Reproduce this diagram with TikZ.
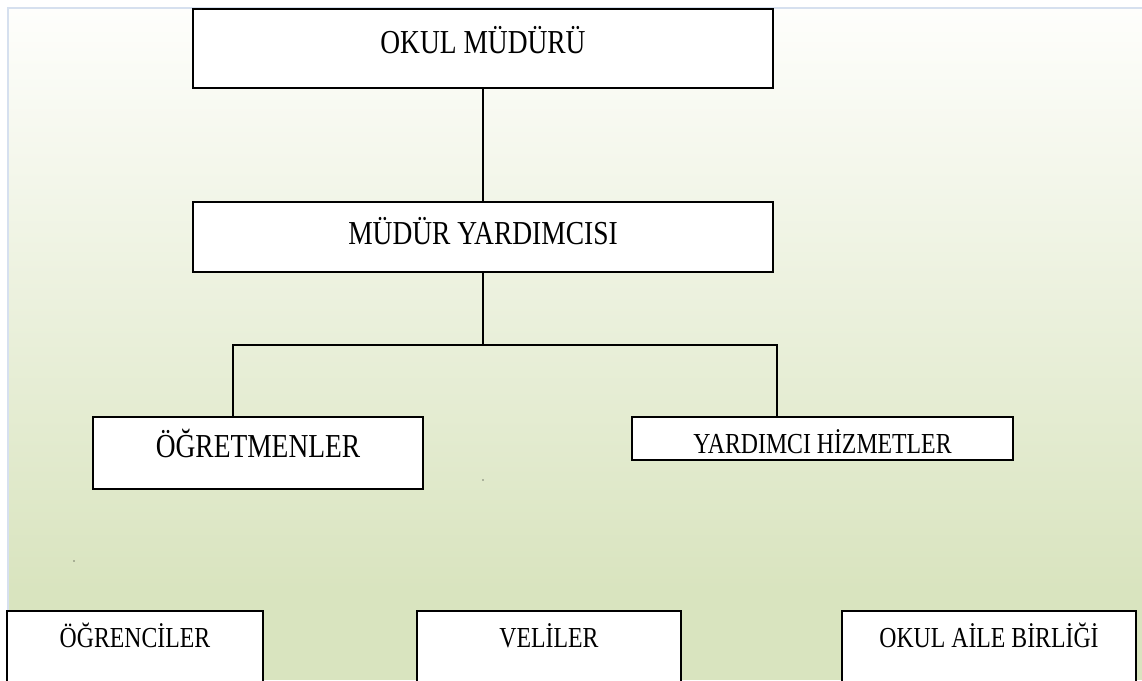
\documentclass[tikz,border=0pt]{standalone}
\usepackage{fontspec}
\setmainfont{Liberation Serif}[FakeStretch=0.82]
\definecolor{bgtop}{HTML}{FEFEFC}
\definecolor{bggreen}{HTML}{D9E4BF}
\definecolor{edge}{HTML}{D6E0EF}
\tikzset{
  box/.style={draw=black, line width=2pt, fill=white, inner sep=0pt, outer sep=0pt, anchor=north west},
  bigtxt/.style={font=\fontsize{33.5}{38}\selectfont},
  smalltxt/.style={font=\fontsize{29}{33}\selectfont},
  conn/.style={draw=black, line width=1.8pt},
}
\begin{document}
\begin{tikzpicture}[x=1pt,y=-1pt]
\clip (0,0) rectangle (1142,680);
\useasboundingbox (0,0) rectangle (1142,680);
\fill[white] (0,0) rectangle (1142,680);
% background
\shade[top color=bgtop, bottom color=bggreen] (8,8) rectangle (1142,590);
\fill[bggreen] (8,589) rectangle (1142,680);
\draw[edge, line width=2pt] (8,680) -- (8,8) -- (1142,8);
% boxes
\node[box, bigtxt, minimum width=580pt, text height=45pt, text depth=34pt] (mudur) at (193,8.7) {OKUL MÜDÜRÜ};
\node[box, bigtxt, minimum width=580pt, text height=42pt, text depth=28pt] (yard) at (193,202) {MÜDÜR YARDIMCISI};
\node[box, bigtxt, minimum width=330pt, text height=40pt, text depth=32pt] (ogret) at (93,417) {ÖĞRETMENLER};
\node[box, smalltxt, minimum width=381pt, text height=36pt, text depth=7pt] (yh) at (632,417) {YARDIMCI HİZMETLER};
\node[box, smalltxt, minimum width=256pt, text height=36pt, text depth=53pt] (ogrenci) at (7,611) {ÖĞRENCİLER};
\node[box, smalltxt, minimum width=264pt, text height=36pt, text depth=53pt] (veli) at (417,611) {VELİLER};
\node[box, smalltxt, minimum width=294pt, text height=36pt, text depth=53pt] (oab) at (842,611) {OKUL AİLE BİRLİĞİ};
% connectors
\coordinate (jm) at (483,345);
\coordinate (jl) at (233,345);
\coordinate (jr) at (777,345);
\draw[conn] (mudur.south) -- (yard.north);
\draw[conn] (yard.south) -- (yard.south |- jm);
\draw[conn] (ogret.north -| jl) -- (jl) -- (jr) -- (yh.north -| jr);
% stray dots
\fill[black] (483,480) circle (0.7pt);
\fill[black] (74,561) circle (0.7pt);
\end{tikzpicture}
\end{document}
